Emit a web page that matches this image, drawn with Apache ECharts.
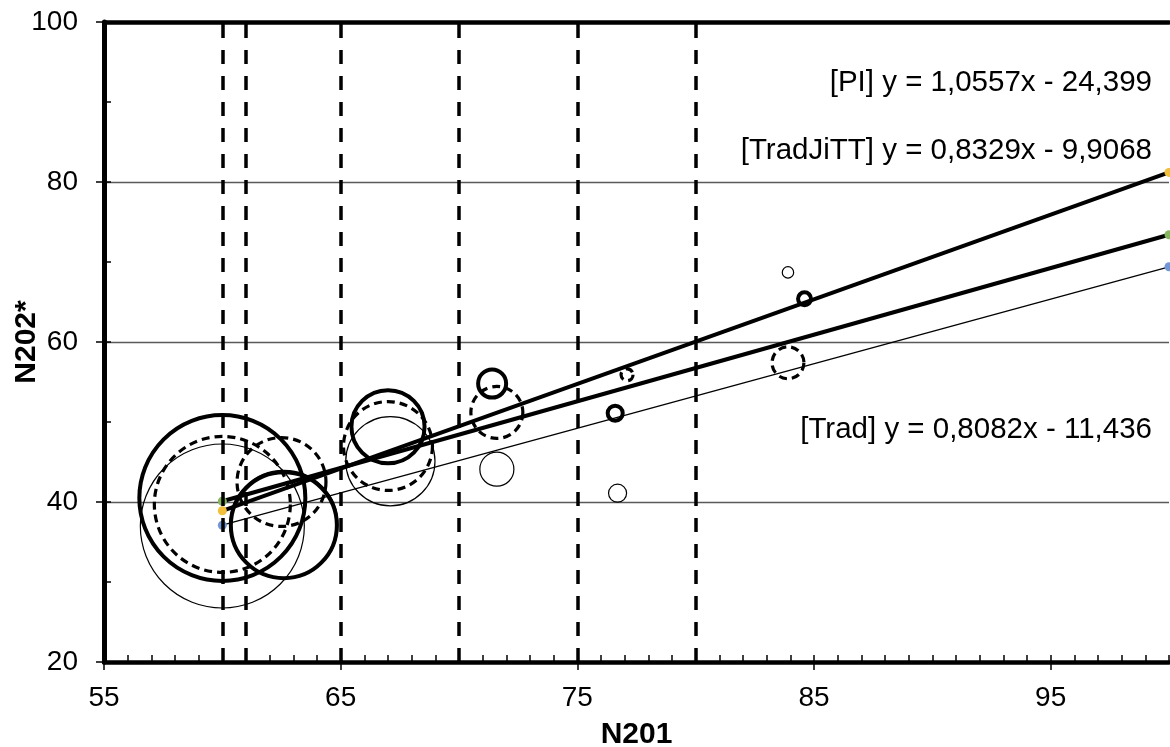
<!DOCTYPE html>
<html>
<head>
<meta charset="utf-8">
<script src="https://cdn.jsdelivr.net/npm/echarts@6/dist/echarts.min.js"></script>
<style>
html,body{margin:0;padding:0;background:#fff;}
#chart{width:1170px;height:747px;}
</style>
</head>
<body>
<div id="chart"></div>
<script>
// ---- data ----
const xTickValues = [55, 65, 75, 85, 95];
const verticalLines = [60, 61, 65, 70, 75, 80];

// bubbles: x (N201), y (N202*), bubble size
const piX = [60.0, 62.6, 67.0, 71.4, 76.6, 84.6];
const piY = [40.5, 37.1, 49.4, 54.8, 51.1, 65.4];
const piSize = [100, 40.8, 19.4, 2.85, 0.82, 0.61];

const tradJiTTX = [60.0, 62.5, 67.0, 71.6, 77.1, 83.9];
const tradJiTTY = [39.7, 42.5, 47.0, 51.2, 55.9, 57.4];
const tradJiTTSize = [67.1, 28.7, 28.7, 9.8, 0.52, 3.7];

const tradX = [60.0, 62.6, 67.1, 71.6, 76.7, 83.9];
const tradY = [37.0, 37.2, 45.1, 44.1, 41.1, 68.7];
const tradSize = [97.6, 42.3, 28.9, 4.2, 1.18, 0.47];

// trend line end points (x = 60 and x = 100)
const trendX = [60, 100];
const piTrendY = [38.9, 81.2];
const tradJiTTTrendY = [40.1, 73.4];
const tradTrendY = [37.1, 69.4];

const equations = [
  '[PI] y = 1,0557x - 24,399',
  '[TradJiTT] y = 0,8329x - 9,9068',
  '[Trad] y = 0,8082x - 11,436'
];

// ---- build ----
const FONT = '"Liberation Sans", Arial, sans-serif';
function zip3(xs, ys, ss) { return xs.map((x, i) => [x, ys[i], ss[i]]); }
function zip2(xs, ys) { return xs.map((x, i) => [x, ys[i]]); }
const sizeFn = v => 16.6 * Math.sqrt(v[2]);

const chart = echarts.init(document.getElementById('chart'), null, {renderer: 'canvas'});

function trend(name, ys, color, width) {
  return {
    type: 'line', name: name, data: zip2(trendX, ys),
    xAxisIndex: 0, yAxisIndex: 0,
    symbol: 'circle', symbolSize: 9, showSymbol: true,
    lineStyle: {color: '#000', width: width},
    itemStyle: {color: color, borderWidth: 0, opacity: 1},
    z: 4, silent: true, clip: false
  };
}
function bubbles(name, data, width, type) {
  return {
    type: 'scatter', name: name, data: data,
    xAxisIndex: 0, yAxisIndex: 0,
    symbol: 'circle', symbolSize: sizeFn,
    itemStyle: {color: 'rgba(0,0,0,0)', borderColor: '#000', borderWidth: width, borderType: type, opacity: 1},
    z: 5, silent: true
  };
}

const option = {
  animation: false,
  backgroundColor: '#fff',
  grid: {left: 104, right: 1, top: 22, bottom: 85, containLabel: false, outerBoundsMode: 'none'},
  xAxis: [
    {
      type: 'value', position: 'bottom', min: 55, max: 100,
      name: 'N201', nameLocation: 'middle', nameGap: 58, nameMoveOverlap: false,
      nameTextStyle: {fontFamily: FONT, fontSize: 30, fontWeight: 'bold', color: '#000'},
      axisLine: {show: true, onZero: false, lineStyle: {color: '#000', width: 4.5}},
      axisTick: {show: true, inside: false, length: 8, customValues: xTickValues, lineStyle: {color: '#000', width: 1.5}},
      axisLabel: {show: true, customValues: xTickValues, margin: 22, fontFamily: FONT, fontSize: 28, color: '#000'},
      splitLine: {show: false}
    },
    {
      type: 'value', position: 'bottom', min: 55, max: 100, interval: 1,
      axisLine: {show: false, onZero: false},
      axisTick: {show: true, inside: true, length: 7, lineStyle: {color: '#000', width: 1.5}},
      axisLabel: {show: false}, splitLine: {show: false}
    },
    {
      type: 'value', position: 'top', min: 55, max: 100,
      axisLine: {show: true, onZero: false, lineStyle: {color: '#000', width: 4.5}},
      axisTick: {show: false}, axisLabel: {show: false}, splitLine: {show: false}
    }
  ],
  yAxis: [
    {
      type: 'value', position: 'left', min: 20, max: 100, interval: 20,
      name: 'N202*', nameLocation: 'middle', nameGap: 62, nameRotate: 90, nameMoveOverlap: false,
      nameTextStyle: {fontFamily: FONT, fontSize: 30, fontWeight: 'bold', color: '#000'},
      axisLine: {show: true, onZero: false, lineStyle: {color: '#000', width: 5}},
      axisTick: {show: true, inside: false, length: 8, lineStyle: {color: '#000', width: 1.5}},
      axisLabel: {show: true, margin: 26, fontFamily: FONT, fontSize: 28, color: '#000'},
      splitLine: {show: true, lineStyle: {color: '#595959', width: 1.3}}
    },
    {
      type: 'value', position: 'left', min: 20, max: 100, interval: 10,
      axisLine: {show: false, onZero: false},
      axisTick: {show: true, inside: true, length: 7, lineStyle: {color: '#000', width: 1.5}},
      axisLabel: {show: false}, splitLine: {show: false}
    }
  ],
  series: [
    {
      type: 'line', name: 'limits', data: [], xAxisIndex: 0, yAxisIndex: 0, silent: true,
      markLine: {
        silent: true, symbol: ['none', 'none'], label: {show: false},
        lineStyle: {color: '#000', width: 3.5, type: [14, 12]},
        emphasis: {disabled: true},
        data: verticalLines.map(v => ({xAxis: v}))
      },
      z: 2
    },
    trend('PI trend', piTrendY, '#F2BF3A', 4),
    trend('TradJiTT trend', tradJiTTTrendY, '#86B55F', 4),
    trend('Trad trend', tradTrendY, '#7396D6', 1.3),
    bubbles('PI', zip3(piX, piY, piSize), 4, 'solid'),
    bubbles('TradJiTT', zip3(tradJiTTX, tradJiTTY, tradJiTTSize), 3.2, [8, 5]),
    bubbles('Trad', zip3(tradX, tradY, tradSize), 1.2, 'solid')
  ],
  graphic: [
    {type: 'text', right: 18, top: 68, style: {text: equations[0], font: '29.5px ' + FONT, fill: '#000'}},
    {type: 'text', right: 18, top: 136, style: {text: equations[1], font: '29.5px ' + FONT, fill: '#000'}},
    {type: 'text', right: 18, top: 415, style: {text: equations[2], font: '29.5px ' + FONT, fill: '#000'}}
  ]
};
chart.setOption(option);
</script>
</body>
</html>
